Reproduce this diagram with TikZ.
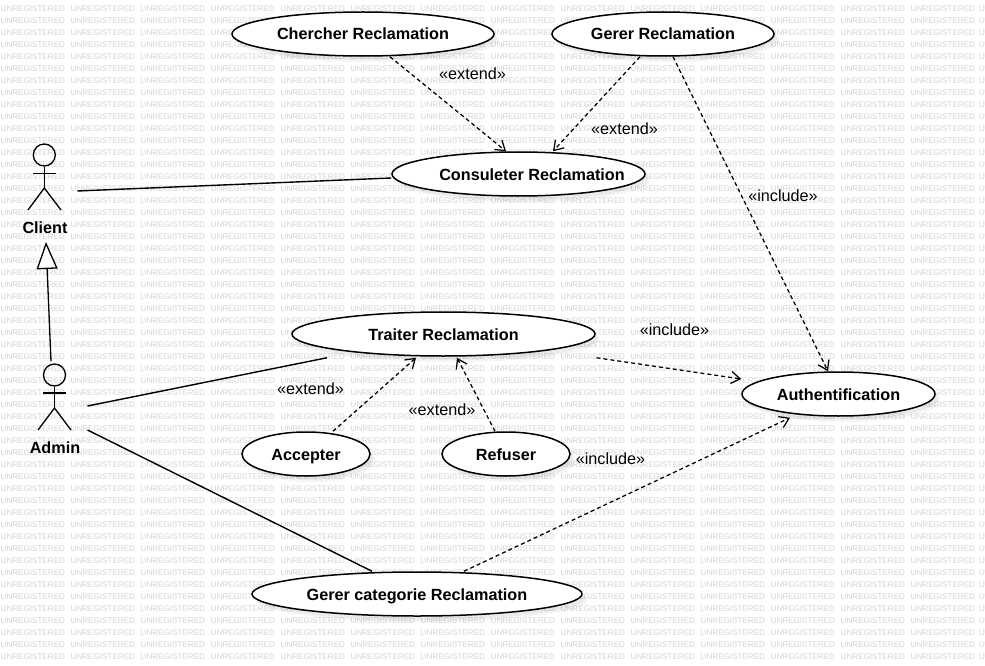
\documentclass[tikz,border=0pt]{standalone}
\usepackage{fontspec}
\setmainfont{Liberation Sans}
\usetikzlibrary{shapes.geometric,arrows.meta,calc,shadows}
\tikzset{
  x=1pt,y=-1pt,
  usecase/.style={ellipse,draw=black,line width=1.5pt,fill=white,inner sep=0pt,
    text height=15pt,text depth=3pt,
    font=\bfseries\fontsize{16.2}{18}\selectfont,
    general shadow={shadow xshift=5pt,shadow yshift=-6pt,fill=black,opacity=.04},
    general shadow={shadow xshift=3pt,shadow yshift=-4pt,fill=black,opacity=.04}},
  assoc/.style={draw=black,line width=1.4pt},
  dep/.style={draw=black,line width=1.25pt,dash pattern=on 4pt off 3pt,
    -{Straight Barb[length=9pt,width=12pt,line width=1.25pt]}},
  stereo/.style={font=\fontsize{16.2}{18}\selectfont,inner sep=0pt},
  actorlabel/.style={font=\bfseries\fontsize{16.2}{18}\selectfont,inner sep=0pt},
  limb/.style={draw=black,line width=1.3pt},
  head/.style={circle,draw=black,line width=1.3pt,minimum size=22pt,inner sep=0pt},
  gen/.style={draw=black,line width=1.3pt,-{Triangle[open,fill=white,length=27pt,width=21pt,line width=1.3pt]}},
  wm/.style={font=\fontsize{8.1}{9}\selectfont,text=black!17,inner sep=0pt,anchor=west}
}
\begin{document}
\begin{tikzpicture}
\useasboundingbox (0,0) rectangle (985,666);
\fill[white] (0,0) rectangle (985,666);
% watermark
\foreach \r in {0,...,54}{
  \foreach \c in {0,...,13}{
    \node[wm] (wm-\r-\c) at ({\c*70+0.5},{9+\r*12}) {UNREGISTERED};
  }
  \node[wm] (wm-\r-14) at (979,{9+\r*12}) {U};
}
% use cases
\node[usecase,minimum width=262pt,minimum height=44pt] (chercher) at (363,34) {Chercher Reclamation};
\node[usecase,minimum width=222pt,minimum height=44pt] (gerer) at (663,34) {Gerer Reclamation};
\node[usecase,minimum width=253pt,minimum height=44pt] (consulter) at (518.5,174) {\makebox[0pt]{\hspace*{27pt}Consuleter Reclamation}};
\node[usecase,minimum width=303pt,minimum height=44pt] (traiter) at (443.5,334) {Traiter Reclamation};
\node[usecase,minimum width=193pt,minimum height=44pt] (auth) at (838.5,394) {Authentification};
\node[usecase,minimum width=128pt,minimum height=44pt] (accepter) at (306,454) {Accepter};
\node[usecase,minimum width=128pt,minimum height=44pt] (refuser) at (506,454) {Refuser};
\node[usecase,minimum width=330pt,minimum height=44pt] (categorie) at (417,594) {Gerer categorie Reclamation};
% actors
\node[head] (client) at (44.3,155) {};
\draw[limb] (33,173.5) -- (56,173.5);
\draw[limb] (client.south) -- (44.3,188) coordinate (clienthip);
\draw[limb] (28,210) -- (clienthip) -- (61,210);
\node[actorlabel] (clientlabel) at (45,227.7) {Client};
\node[head] (admin) at (54.5,375) {};
\draw[limb] (43,393) -- (66,393);
\draw[limb] (admin.south) -- (54.5,408) coordinate (adminhip);
\draw[limb] (38,430) -- (adminhip) -- (71,430);
\node[actorlabel] (adminlabel) at (55,447.7) {Admin};
% associations
\draw[assoc] ($(client)+(33,36)$) -- ($(consulter.west)+(0,4)$);
\draw[assoc] ($(admin)+(33,31)$) -- ($(traiter.south)+(-116.5,1)$);
\draw[assoc] ($(admin)+(33,55)$) -- ($(categorie.north)+(-45,0)$);
\draw[gen] ($(admin.north)+(-3.5,-2)$) -- ($(client)+(1.7,87)$);
% dependencies
\draw[dep] ($(chercher.south)+(27,0)$) -- ($(consulter.north)+(-12.5,0)$);
\draw[dep] ($(gerer.south)+(-23,0)$) -- ($(consulter.north)+(34.5,0)$);
\draw[dep] ($(gerer.south)+(10,0)$) -- ($(auth.north)+(-10.5,0)$);
\draw[dep] ($(traiter.south)+(153,1)$) -- ($(auth.west)+(0,-15)$);
\draw[dep] ($(accepter.north)+(27,0)$) -- ($(traiter.south)+(-27.5,1)$);
\draw[dep] ($(refuser.north)+(-11,0)$) -- ($(traiter.south)+(13.5,1)$);
\draw[dep] ($(categorie.north)+(47,0)$) -- ($(auth.south)+(-48.5,1)$);
% labels
\node[stereo] (l1) at (472.5,73.5) {«extend»};
\node[stereo] (l2) at (624.5,128.5) {«extend»};
\node[stereo] (l3) at (783,195.5) {«include»};
\node[stereo] (l4) at (674.5,329.5) {«include»};
\node[stereo] (l5) at (310.5,388.5) {«extend»};
\node[stereo] (l6) at (442,409.5) {«extend»};
\node[stereo] (l7) at (610.5,458.5) {«include»};
\end{tikzpicture}
\end{document}
